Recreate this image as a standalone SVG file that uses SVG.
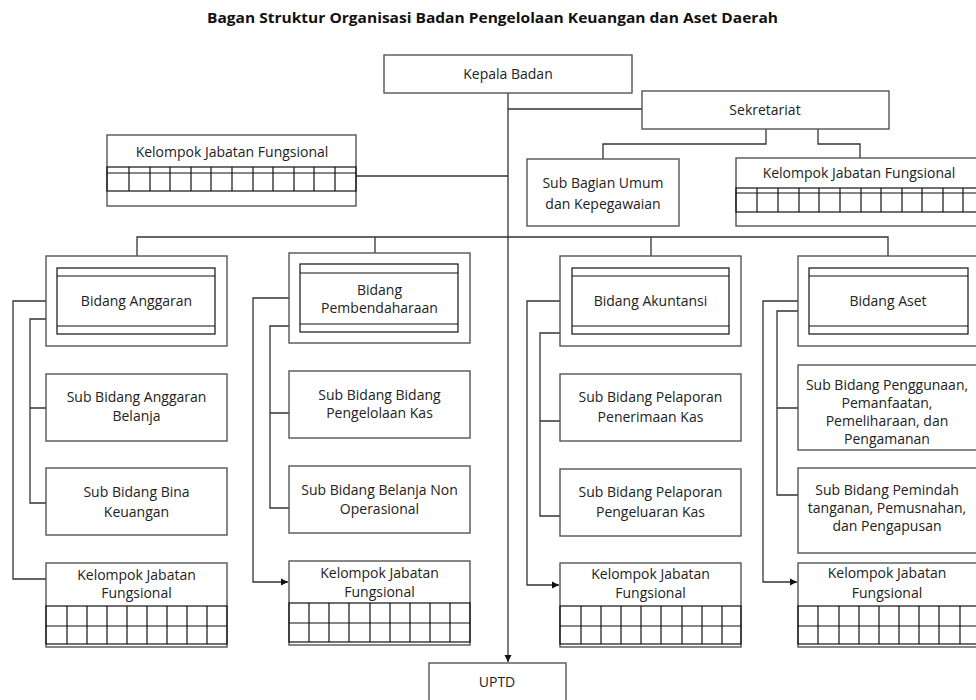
<svg xmlns="http://www.w3.org/2000/svg" width="976" height="700" viewBox="0 0 976 700">
<style>
.box{fill:#fff;stroke:#555;stroke-width:1.4}
.grid{fill:none;stroke:#111;stroke-width:1.2}
.ln{fill:none;stroke:#333;stroke-width:1.3}
.t{font-family:"Open Sans","Liberation Sans",sans-serif;font-size:14px;fill:#222;text-anchor:middle}
.title{font-family:"Open Sans","Liberation Sans",sans-serif;font-size:14.5px;font-weight:bold;fill:#111;text-anchor:middle}
</style>
<defs>
<marker id="arr" markerWidth="8" markerHeight="8" refX="7" refY="4" orient="auto" markerUnits="userSpaceOnUse">
<path d="M0,0.5 L7,4 L0,7.5 Z" fill="#111"/>
</marker>
</defs>
<rect width="976" height="700" fill="#fff"/>
<text class="title" x="492.5" y="23" textLength="571" lengthAdjust="spacingAndGlyphs">Bagan Struktur Organisasi Badan Pengelolaan Keuangan dan Aset Daerah</text>

<g id="connectors">
<path class="ln" d="M508,93 V662" marker-end="url(#arr)"/>
<path class="ln" d="M508,109 H642"/>
<path class="ln" d="M356,176 H508"/>
<path class="ln" d="M766,129 V144 H603 V159"/>
<path class="ln" d="M818,129 V144 H860 V158"/>
<path class="ln" d="M137,256 V237 H888 V256"/>
<path class="ln" d="M375,237 V253"/>
<path class="ln" d="M651,237 V256"/>
<path class="ln" d="M46,301 H13 V579 H46"/>
<path class="ln" d="M46,319 H30 V503 H46 M30,408 H46"/>
<path class="ln" d="M289,298 H253 V582 H288" marker-end="url(#arr)"/>
<path class="ln" d="M289,326 H270 V508 H289 M270,413 H289"/>
<path class="ln" d="M560,301 H527 V585 H559" marker-end="url(#arr)"/>
<path class="ln" d="M560,333 H540 V516 H560 M540,421 H560"/>
<path class="ln" d="M798,301 H763 V582 H797" marker-end="url(#arr)"/>
<path class="ln" d="M798,311 H777 V495 H798 M777,408 H798"/>
</g>

<g id="kepala-badan">
<rect class="box" x="384" y="55" width="248" height="38"/>
<text class="t" x="508" y="79">Kepala Badan</text>
</g>
<g id="sekretariat">
<rect class="box" x="642" y="91" width="247" height="38"/>
<text class="t" x="765" y="115">Sekretariat</text>
</g>
<g id="sub-bagian-umum">
<rect class="box" x="527" y="159" width="152" height="67"/>
<text class="t" x="603" y="188">Sub Bagian Umum</text>
<text class="t" x="603" y="209">dan Kepegawaian</text>
</g>
<g id="kjf-kiri-atas">
<rect class="box" x="107" y="135" width="249" height="71"/>
<rect class="grid" x="107" y="167" width="249" height="24"/>
<path class="grid" d="M107,173 H356 M129,167 V191 M150,167 V191 M170,167 V191 M191,167 V191 M211,167 V191 M232,167 V191 M253,167 V191 M273,167 V191 M294,167 V191 M314,167 V191 M335,167 V191"/>
<text class="t" x="232" y="157">Kelompok Jabatan Fungsional</text>
</g>
<g id="kjf-sekretariat">
<rect class="box" x="736" y="158" width="242" height="68"/>
<rect class="grid" x="736" y="188" width="242" height="24"/>
<path class="grid" d="M736,193 H978 M757,188 V212 M778,188 V212 M799,188 V212 M819,188 V212 M840,188 V212 M861,188 V212 M881,188 V212 M902,188 V212 M922,188 V212 M943,188 V212 M963,188 V212"/>
<text class="t" x="859" y="178">Kelompok Jabatan Fungsional</text>
</g>

<g id="bidang-anggaran">
<rect class="box" x="46" y="256" width="181" height="90"/>
<rect class="grid" x="57" y="268" width="158" height="66"/>
<path class="grid" d="M57,276 H215 M57,326 H215"/>
<text class="t" x="136.5" y="306">Bidang Anggaran</text>
</g>
<g id="sub-anggaran-belanja">
<rect class="box" x="46" y="374" width="181" height="67"/>
<text class="t" x="136.5" y="402">Sub Bidang Anggaran</text>
<text class="t" x="136.5" y="421">Belanja</text>
</g>
<g id="sub-bina-keuangan">
<rect class="box" x="46" y="468" width="181" height="67"/>
<text class="t" x="136.5" y="497">Sub Bidang Bina</text>
<text class="t" x="136.5" y="517">Keuangan</text>
</g>
<g id="kjf-anggaran">
<rect class="box" x="46" y="563" width="181" height="84"/>
<rect class="grid" x="46" y="606" width="181" height="38"/>
<path class="grid" d="M46,626 H227 M67,606 V644 M87,606 V644 M107,606 V644 M127,606 V644 M147,606 V644 M167,606 V644 M187,606 V644 M207,606 V644"/>
<text class="t" x="136.5" y="580">Kelompok Jabatan</text>
<text class="t" x="136.5" y="598">Fungsional</text>
</g>

<g id="bidang-pembendaharaan">
<rect class="box" x="289" y="253" width="181" height="90"/>
<rect class="grid" x="300" y="264" width="158" height="68"/>
<path class="grid" d="M300,273 H458 M300,324 H458"/>
<text class="t" x="379.5" y="295">Bidang</text>
<text class="t" x="379.5" y="313">Pembendaharaan</text>
</g>
<g id="sub-pengelolaan-kas">
<rect class="box" x="289" y="371" width="181" height="67"/>
<text class="t" x="379.5" y="400">Sub Bidang Bidang</text>
<text class="t" x="379.5" y="418">Pengelolaan Kas</text>
</g>
<g id="sub-belanja-non">
<rect class="box" x="289" y="466" width="181" height="67"/>
<text class="t" x="379.5" y="495">Sub Bidang Belanja Non</text>
<text class="t" x="379.5" y="514">Operasional</text>
</g>
<g id="kjf-pembendaharaan">
<rect class="box" x="289" y="561" width="181" height="84"/>
<rect class="grid" x="289" y="603" width="181" height="39"/>
<path class="grid" d="M289,623 H470 M309,603 V642 M329,603 V642 M349,603 V642 M370,603 V642 M390,603 V642 M410,603 V642 M430,603 V642 M450,603 V642"/>
<text class="t" x="379.5" y="578">Kelompok Jabatan</text>
<text class="t" x="379.5" y="597">Fungsional</text>
</g>

<g id="bidang-akuntansi">
<rect class="box" x="560" y="256" width="181" height="90"/>
<rect class="grid" x="572" y="268" width="157" height="66"/>
<path class="grid" d="M572,276 H729 M572,326 H729"/>
<text class="t" x="650.5" y="306">Bidang Akuntansi</text>
</g>
<g id="sub-penerimaan-kas">
<rect class="box" x="560" y="374" width="181" height="67"/>
<text class="t" x="650.5" y="402">Sub Bidang Pelaporan</text>
<text class="t" x="650.5" y="422">Penerimaan Kas</text>
</g>
<g id="sub-pengeluaran-kas">
<rect class="box" x="560" y="469" width="181" height="67"/>
<text class="t" x="650.5" y="497">Sub Bidang Pelaporan</text>
<text class="t" x="650.5" y="517">Pengeluaran Kas</text>
</g>
<g id="kjf-akuntansi">
<rect class="box" x="560" y="563" width="181" height="84"/>
<rect class="grid" x="560" y="606" width="181" height="38"/>
<path class="grid" d="M560,626 H741 M581,606 V644 M601,606 V644 M621,606 V644 M641,606 V644 M661,606 V644 M682,606 V644 M702,606 V644 M722,606 V644"/>
<text class="t" x="650.5" y="579">Kelompok Jabatan</text>
<text class="t" x="650.5" y="598">Fungsional</text>
</g>

<g id="bidang-aset">
<rect class="box" x="798" y="256" width="180" height="90"/>
<rect class="grid" x="809" y="268" width="159" height="66"/>
<path class="grid" d="M809,276 H968 M809,326 H968"/>
<text class="t" x="888" y="306">Bidang Aset</text>
</g>
<g id="sub-penggunaan">
<rect class="box" x="798" y="365" width="180" height="85"/>
<text class="t" x="887" y="390">Sub Bidang Penggunaan,</text>
<text class="t" x="887" y="408">Pemanfaatan,</text>
<text class="t" x="887" y="426">Pemeliharaan, dan</text>
<text class="t" x="887" y="444">Pengamanan</text>
</g>
<g id="sub-pemindah">
<rect class="box" x="798" y="468" width="180" height="85"/>
<text class="t" x="887" y="495">Sub Bidang Pemindah</text>
<text class="t" x="887" y="513">tanganan, Pemusnahan,</text>
<text class="t" x="887" y="531">dan Pengapusan</text>
</g>
<g id="kjf-aset">
<rect class="box" x="798" y="563" width="180" height="84"/>
<rect class="grid" x="798" y="606" width="180" height="38"/>
<path class="grid" d="M798,626 H978 M818,606 V644 M839,606 V644 M859,606 V644 M879,606 V644 M899,606 V644 M919,606 V644 M939,606 V644 M960,606 V644"/>
<text class="t" x="887" y="578">Kelompok Jabatan</text>
<text class="t" x="887" y="598">Fungsional</text>
</g>

<g id="uptd">
<rect class="box" x="429" y="663" width="137" height="40"/>
<text class="t" x="497" y="687">UPTD</text>
</g>
</svg>
